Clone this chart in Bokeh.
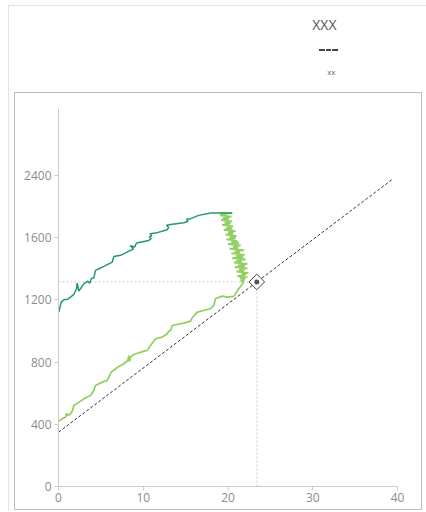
from bokeh.plotting import figure
from bokeh.models import Range1d, FixedTicker
from bokeh.core.properties import value
from bokeh.embed import file_html
from bokeh.resources import INLINE
import numpy as np

# ---------------- data ----------------
x_ticks = [0, 10, 20, 30, 40]
y_tick_pos = [0, 400, 800, 1200, 1600, 2000]
y_tick_labels = ["0", "400", "800", "1200", "1600", "2400"]

dark_x = [0.04, 0.32, 0.63, 1.10, 1.42, 1.81, 2.12, 2.21, 2.40, 2.99, 3.46, 3.69, 3.86,
          4.17, 4.37, 4.76, 5.35, 6.34, 6.53, 7.32, 8.50, 8.85, 8.45, 9.00, 9.20, 10.65,
          10.95, 10.70, 11.00, 10.80, 11.45, 12.83, 13.00, 12.75, 13.22, 14.78, 15.30,
          15.10, 15.60, 16.55, 17.94, 20.50]
dark_y = [1121, 1185, 1201, 1204, 1217, 1235, 1271, 1307, 1256, 1303, 1320, 1307, 1336,
          1342, 1389, 1400, 1415, 1442, 1479, 1486, 1518, 1528, 1548, 1540, 1565, 1582,
          1595, 1605, 1612, 1625, 1629, 1651, 1665, 1680, 1685, 1696, 1705,
          1718, 1722, 1743, 1758, 1758]

light_x = [0.04, 0.44, 0.83, 0.94, 1.10, 1.42, 1.62, 1.81, 2.60, 3.19, 3.78, 4.17, 4.37,
           5.16, 5.75, 5.94, 6.22, 6.73, 7.12, 7.71, 8.18, 8.30, 8.38, 8.50, 8.89, 10.07,
           10.47, 10.86, 11.45, 12.24, 12.83, 12.98, 13.22, 13.42, 14.78, 15.58, 15.78,
           16.37, 17.94, 18.33, 18.52, 19.31, 19.91, 20.68, 20.88, 21.27, 21.86,
           21.5, 22.0, 21.4, 22.3, 21.1, 22.1, 21.6, 22.4, 21.0, 21.9, 21.3, 22.3, 20.8,
           22.0, 21.2, 22.3, 20.7, 21.6, 21.0, 22.1, 20.5, 21.8, 20.9, 22.0, 20.4, 21.4,
           20.8, 21.9, 20.2, 21.2, 20.6, 21.5, 20.0, 21.3, 20.4, 21.1, 19.8, 20.9, 20.2,
           21.0, 19.7, 20.6, 20.0, 20.9, 19.5, 20.5, 19.8, 20.6, 19.3, 20.3, 19.6, 20.5,
           19.2, 20.1, 19.4, 20.4, 19.1, 19.9, 19.0, 20.5]
light_y = [420, 435, 446, 469, 457, 468, 484, 521, 549, 570, 585, 617, 650,
           671, 682, 703, 735, 757, 772, 789, 810, 842, 804, 832, 849, 870,
           875, 907, 950, 960, 982, 997, 1003, 1035, 1050, 1063, 1085,
           1121, 1143, 1164, 1207, 1224, 1217, 1222, 1239, 1271, 1314,
           1322, 1330, 1338, 1345, 1352, 1360, 1366, 1373, 1381, 1388, 1395, 1402, 1410,
           1417, 1424, 1431, 1439, 1446, 1452, 1460, 1468, 1475, 1482, 1490, 1498, 1505,
           1512, 1520, 1528, 1535, 1542, 1550, 1558, 1566, 1573, 1580, 1588, 1596, 1603,
           1611, 1619, 1627, 1634, 1642, 1650, 1658, 1665, 1673, 1681, 1689, 1696, 1704,
           1712, 1720, 1727, 1735, 1743, 1750, 1755, 1758]

diag_x = [0, 39.5]
diag_y = [349, 1979]

point_x = [23.4]
point_y = [1315]

title_text = ["XXX"]
legend_text = ["xx"]

# ---------------- page frame lines (CSS, behind a transparent canvas) ----------------
seg_colors = ["#e3e3e3", "#e3e3e3", "#bdbdbd", "#bdbdbd", "#bdbdbd", "#bdbdbd",
              "#444444", "#444444", "#444444"]
seg_sizes = ["418px 1px", "1px 507px", "408px 1px", "408px 1px", "1px 418px",
             "1px 418px", "6px 2px", "5px 2px", "6px 2px"]
seg_pos = ["8px 5px", "8px 5px", "14px 92px", "14px 509px", "14px 92px",
           "421px 92px", "319px 49px", "326px 49px", "332px 49px"]
css = {
    "background-color": "white",
    "background-image": ", ".join(f"linear-gradient({c}, {c})" for c in seg_colors),
    "background-size": ", ".join(seg_sizes),
    "background-position": ", ".join(seg_pos),
    "background-repeat": "no-repeat",
}

# ---------------- figure ----------------
# frame spans from canvas top down to the x axis; the y axis is bounded to its data span
p = figure(width=426, height=511, output_backend="svg", toolbar_location=None,
           x_range=Range1d(0, 40), y_range=Range1d(0, 3124.3),
           min_border_left=58, min_border_right=29, min_border_top=0,
           min_border_bottom=25, styles=css)
p.extra_x_ranges = {"px": Range1d(58, 397)}
p.extra_y_ranges = {"px": Range1d(486, 0)}
p.outline_line_color = None
p.grid.visible = False
p.background_fill_color = None
p.border_fill_color = None

for ax in (p.xaxis[0], p.yaxis[0]):
    ax.axis_line_color = "#cccccc"
    ax.major_tick_line_color = "#cccccc"
    ax.minor_tick_line_color = None
    ax.major_tick_out = 4
    ax.major_tick_in = 0
    ax.major_label_text_font = "Open Sans"
    ax.major_label_text_font_size = "12px"
    ax.major_label_text_color = "#8c8c8c"
p.xaxis[0].major_label_standoff = 2
p.yaxis[0].major_label_standoff = 3
p.yaxis[0].bounds = (0, 2430)
p.xaxis[0].ticker = FixedTicker(ticks=x_ticks)
p.yaxis[0].ticker = FixedTicker(ticks=y_tick_pos)
p.yaxis[0].major_label_overrides = {t: l for t, l in zip(y_tick_pos, y_tick_labels)}

# header texts
p.text(x=[336], y=[24], text=title_text, x_range_name="px", y_range_name="px",
       text_align="right", text_baseline="middle", text_font=value("Open Sans"),
       text_font_size="14px", text_color="#555555")
p.text(x=[335], y=[71], text=legend_text, x_range_name="px", y_range_name="px",
       text_align="right", text_baseline="middle", text_font=value("Open Sans"),
       text_font_size="8px", text_color="#666666")

# crosshair guides
p.line([0, point_x[0]], [point_y[0], point_y[0]], line_color="#cfcfcf",
       line_width=1, line_dash="2 2")
p.line([point_x[0], point_x[0]], [0, point_y[0]], line_color="#cfcfcf",
       line_width=1, line_dash="2 2")

# diagonal dashed
p.line(diag_x, diag_y, line_color="#333333", line_width=1, line_dash="3 2")

# series
p.line(light_x, light_y, line_color="#91cf60", line_width=1.7)
p.line(dark_x, dark_y, line_color="#22996a", line_width=1.5)

# marker
p.scatter(point_x, point_y, marker="square", size=11, angle=np.pi / 4,
          fill_color="white", line_color="#444444", line_width=1)
p.scatter(point_x, point_y, marker="circle", size=5, fill_color="#555555",
          line_color=None)

open("out.html", "w").write(file_html(p, INLINE))
